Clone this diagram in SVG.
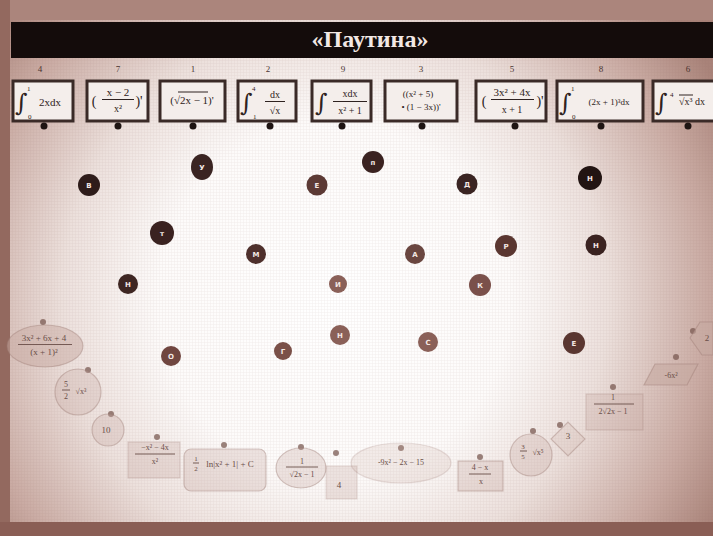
<svg xmlns="http://www.w3.org/2000/svg" width="713" height="536" viewBox="0 0 713 536">
<defs>
<radialGradient id="bg" cx="335" cy="300" r="440" gradientUnits="userSpaceOnUse">
<stop offset="0" stop-color="#ffffff"/>
<stop offset="0.4" stop-color="#fdfbfa"/>
<stop offset="0.62" stop-color="#ece0dc"/>
<stop offset="0.85" stop-color="#c9aaa2"/>
<stop offset="1" stop-color="#a98379"/>
</radialGradient>
<pattern id="grid" width="3" height="3" patternUnits="userSpaceOnUse">
<path d="M0 0.5H3M0.5 0V3" stroke="#8a6058" stroke-width="0.4" opacity="0.12"/>
</pattern>
</defs>
<style>
.box{fill:#f4eeeb;stroke:#3a2a27;stroke-width:3}
.num{font-family:"Liberation Serif",serif;font-size:9px;fill:#4a3430;text-anchor:middle}
.f{font-family:"Liberation Serif",serif;fill:#2e2220;text-anchor:middle}
.lim{font-family:"Liberation Serif",serif;fill:#2e2220;font-size:7px}
.int{font-family:"DejaVu Serif",serif;fill:#2e2220;font-size:24px}
.bar{stroke:#2e2220;stroke-width:1}
.pin{fill:#1e1412}
.let{font-family:"DejaVu Sans",sans-serif;font-weight:bold;font-size:7px;fill:#f4e8e4;text-anchor:middle}
.ans{fill:#c7aaa2;fill-opacity:0.3;stroke:#9c7a72;stroke-opacity:0.4;stroke-width:1.2}
.at{font-family:"Liberation Serif",serif;fill:#6a4e48;text-anchor:middle}
.abar{stroke:#6a4e48;stroke-width:0.9}
.adot{fill:#7a5a52;fill-opacity:0.75}
</style>
<rect width="713" height="536" fill="url(#bg)"/>
<rect width="713" height="536" fill="url(#grid)"/>
<rect x="0" y="0" width="713" height="20" fill="#ab857c"/>
<rect x="0" y="0" width="10" height="536" fill="#93695f"/>
<rect x="0" y="522" width="713" height="14" fill="#8a5e55"/>
<g id="title">
<rect x="11" y="22" width="702" height="36" fill="#140c0b"/>
<text x="370" y="47" font-family="Liberation Serif,serif" font-weight="bold" font-size="24" fill="#f2e8e4" text-anchor="middle">«Паутина»</text>
</g>
<g id="connectors"/>
<g id="task1"><text class="num" x="40" y="72">4</text><rect class="box" x="13" y="81" width="60" height="40"/><text class="int" x="15" y="111">∫</text><text class="lim" x="27" y="91">1</text><text class="lim" x="28" y="119">0</text><text class="f" x="50" y="106" font-size="11">2xdx</text><circle class="pin" cx="44" cy="126" r="3.5"/></g>
<g id="task2"><text class="num" x="118" y="72">7</text><rect class="box" x="87" y="81" width="61" height="40"/><text class="f" x="94" y="106" font-size="14">(</text><text class="f" x="118" y="96" font-size="11">x − 2</text><line class="bar" x1="102" y1="99.5" x2="134" y2="99.5"/><text class="f" x="118" y="112" font-size="10">x²</text><text class="f" x="139" y="106" font-size="14">)'</text><circle class="pin" cx="118" cy="126" r="3.5"/></g>
<g id="task3"><text class="num" x="193" y="72">1</text><rect class="box" x="160" y="81" width="65" height="40"/><text class="f" x="192" y="104" font-size="11">(√2x − 1)'</text><line class="bar" x1="178" y1="92" x2="208" y2="92"/><circle class="pin" cx="193" cy="126" r="3.5"/></g>
<g id="task4"><text class="num" x="268" y="72">2</text><rect class="box" x="238" y="81" width="58" height="40"/><text class="int" x="240" y="111">∫</text><text class="lim" x="252" y="91">4</text><text class="lim" x="253" y="119">1</text><text class="f" x="275" y="98" font-size="10">dx</text><line class="bar" x1="265" y1="101.5" x2="285" y2="101.5"/><text class="f" x="275" y="114" font-size="10">√x</text><circle class="pin" cx="270" cy="126" r="3.5"/></g>
<g id="task5"><text class="num" x="343" y="72">9</text><rect class="box" x="312" y="81" width="59" height="40"/><text class="int" x="315" y="111">∫</text><text class="f" x="350" y="97" font-size="10">xdx</text><line class="bar" x1="333" y1="101.5" x2="367" y2="101.5"/><text class="f" x="350" y="114" font-size="10">x² + 1</text><circle class="pin" cx="342" cy="126" r="3.5"/></g>
<g id="task6"><text class="num" x="421" y="72">3</text><rect class="box" x="385" y="81" width="72" height="40"/><text class="f" x="418" y="97" font-size="9">((x² + 5)</text><text class="f" x="421" y="110" font-size="9">• (1 − 3x))'</text><circle class="pin" cx="422" cy="126" r="3.5"/></g>
<g id="task7"><text class="num" x="512" y="72">5</text><rect class="box" x="476" y="81" width="70" height="40"/><text class="f" x="484" y="106" font-size="14">(</text><text class="f" x="512" y="96" font-size="11">3x² + 4x</text><line class="bar" x1="491" y1="99.5" x2="534" y2="99.5"/><text class="f" x="512" y="113" font-size="10">x + 1</text><text class="f" x="540" y="106" font-size="14">)'</text><circle class="pin" cx="515" cy="126" r="3.5"/></g>
<g id="task8"><text class="num" x="601" y="72">8</text><rect class="box" x="557" y="81" width="86" height="40"/><text class="int" x="559" y="111">∫</text><text class="lim" x="571" y="91">1</text><text class="lim" x="572" y="119">0</text><text class="f" x="609" y="105" font-size="9">(2x + 1)³dx</text><circle class="pin" cx="601" cy="126" r="3.5"/></g>
<g id="task9"><text class="num" x="688" y="72">6</text><rect class="box" x="653" y="81" width="64" height="40"/><text class="int" x="655" y="111">∫</text><text class="lim" x="670" y="97" font-size="6">4</text><text class="f" x="692" y="105" font-size="10">√x³ dx</text><line class="bar" x1="679" y1="95" x2="693" y2="95"/><circle class="pin" cx="688" cy="126" r="3.5"/></g>
<g id="letters">
<g id="l-v"><circle cx="89" cy="185" r="11" fill="#2e1c1a"/><text class="let" x="89" y="188">В</text></g>
<g id="l-u"><ellipse cx="202" cy="167" rx="11" ry="13" fill="#3a2422"/><text class="let" x="202" y="170">У</text></g>
<g id="l-e1"><circle cx="317" cy="185" r="10.5" fill="#5c3a35"/><text class="let" x="317" y="188">Е</text></g>
<g id="l-p"><circle cx="373" cy="162" r="11" fill="#3a2220"/><text class="let" x="373" y="165">п</text></g>
<g id="l-d"><circle cx="467" cy="184" r="10.5" fill="#3a2422"/><text class="let" x="467" y="187">Д</text></g>
<g id="l-n1"><circle cx="590" cy="178" r="12" fill="#221412"/><text class="let" x="590" y="181">Н</text></g>
<g id="l-t"><circle cx="162" cy="233" r="12" fill="#3a2220"/><text class="let" x="162" y="236">т</text></g>
<g id="l-m"><circle cx="256" cy="254" r="10" fill="#4e302c"/><text class="let" x="256" y="257">М</text></g>
<g id="l-a"><circle cx="415" cy="254" r="10" fill="#6a4640"/><text class="let" x="415" y="257">А</text></g>
<g id="l-r"><circle cx="506" cy="246" r="11" fill="#5a3630"/><text class="let" x="506" y="249">Р</text></g>
<g id="l-n2"><circle cx="596" cy="245" r="10.5" fill="#3a2220"/><text class="let" x="596" y="248">Н</text></g>
<g id="l-n3"><circle cx="128" cy="284" r="10" fill="#3e2622"/><text class="let" x="128" y="287">Н</text></g>
<g id="l-i"><circle cx="338" cy="284" r="9" fill="#8a6058"/><text class="let" x="338" y="287">И</text></g>
<g id="l-k"><circle cx="480" cy="285" r="11" fill="#7a504a"/><text class="let" x="480" y="288">К</text></g>
<g id="l-n4"><circle cx="340" cy="335" r="10" fill="#8a6058"/><text class="let" x="340" y="338">Н</text></g>
<g id="l-o"><circle cx="171" cy="356" r="10" fill="#704640"/><text class="let" x="171" y="359">О</text></g>
<g id="l-g"><circle cx="283" cy="351" r="9" fill="#7a5048"/><text class="let" x="283" y="354">Г</text></g>
<g id="l-s"><circle cx="428" cy="342" r="10" fill="#8a6058"/><text class="let" x="428" y="345">С</text></g>
<g id="l-e2"><circle cx="574" cy="343" r="11" fill="#5a3630"/><text class="let" x="574" y="346">Е</text></g>
</g>
<g id="answers">
<g id="a1"><circle class="adot" cx="43" cy="322" r="3"/><ellipse class="ans" cx="45" cy="346" rx="38" ry="21" style="fill-opacity:0.5"/><text class="at" x="44" y="341" font-size="9">3x² + 6x + 4</text><line class="abar" x1="18" y1="344.5" x2="72" y2="344.5"/><text class="at" x="44" y="355" font-size="9">(x + 1)²</text></g>
<g id="a2"><circle class="adot" cx="88" cy="370" r="3"/><circle class="ans" cx="78" cy="392" r="23"/><text class="at" x="66" y="387" font-size="8">5</text><line class="abar" x1="62" y1="390" x2="70" y2="390"/><text class="at" x="66" y="399" font-size="8">2</text><text class="at" x="81" y="394" font-size="8">√x³</text></g>
<g id="a3"><circle class="adot" cx="111" cy="414" r="3"/><circle class="ans" cx="108" cy="430" r="16"/><text class="at" x="106" y="433" font-size="9">10</text></g>
<g id="a4"><rect class="ans" x="128" y="442" width="52" height="36" style="stroke-opacity:0.25"/><circle class="adot" cx="157" cy="437" r="3"/><text class="at" x="155" y="450" font-size="8">−x² − 4x</text><line class="abar" x1="135" y1="454" x2="175" y2="454"/><text class="at" x="155" y="464" font-size="8">x²</text></g>
<g id="a5"><circle class="adot" cx="224" cy="445" r="3"/><rect class="ans" x="184" y="449" width="82" height="42" rx="7"/><text class="at" x="196" y="461" font-size="7">1</text><line class="abar" x1="193" y1="463" x2="199" y2="463"/><text class="at" x="196" y="471" font-size="7">2</text><text class="at" x="230" y="467" font-size="9">ln|x² + 1| + C</text></g>
<g id="a6"><circle class="adot" cx="301" cy="447" r="3"/><ellipse class="ans" cx="301" cy="468" rx="25" ry="20"/><text class="at" x="302" y="464" font-size="8">1</text><line class="abar" x1="286" y1="467" x2="318" y2="467"/><text class="at" x="302" y="477" font-size="8">√2x − 1</text></g>
<g id="a7"><circle class="adot" cx="336" cy="453" r="3"/><rect class="ans" x="326" y="466" width="31" height="33" style="stroke-opacity:0.2"/><text class="at" x="339" y="488" font-size="9">4</text></g>
<g id="a8"><circle class="adot" cx="401" cy="448" r="3"/><ellipse class="ans" cx="401" cy="463" rx="50" ry="20" style="stroke-opacity:0.2;fill-opacity:0.2"/><text class="at" x="401" y="465" font-size="8">-9x² − 2x − 15</text></g>
<g id="a9"><circle class="adot" cx="480" cy="457" r="3"/><rect class="ans" x="458" y="461" width="45" height="30"/><text class="at" x="480" y="470" font-size="8">4 − x</text><line class="abar" x1="469" y1="474" x2="491" y2="474"/><text class="at" x="481" y="484" font-size="8">x</text></g>
<g id="a10"><circle class="adot" cx="533" cy="431" r="3"/><circle class="ans" cx="531" cy="455" r="21"/><text class="at" x="523" y="449" font-size="7">3</text><line class="abar" x1="520" y1="451" x2="527" y2="451"/><text class="at" x="523" y="459" font-size="7">5</text><text class="at" x="538" y="455" font-size="8">√x⁵</text></g>
<g id="a11"><circle class="adot" cx="560" cy="425" r="3"/><rect class="ans" x="556" y="427" width="24" height="24" transform="rotate(45 568 439)" style="fill-opacity:0.2"/><text class="at" x="568" y="439" font-size="9">3</text></g>
<g id="a12"><circle class="adot" cx="613" cy="387" r="3"/><rect class="ans" x="586" y="394" width="57" height="36" style="stroke-opacity:0.25"/><text class="at" x="613" y="400" font-size="8">1</text><line class="abar" x1="594" y1="404" x2="634" y2="404"/><text class="at" x="613" y="414" font-size="8">2√2x − 1</text></g>
<g id="a13"><circle class="adot" cx="676" cy="357" r="3"/><polygon class="ans" points="655,364 698,364 687,385 644,385" style="fill-opacity:0.6"/><text class="at" x="671" y="378" font-size="8">-6x²</text></g>
<g id="a14"><circle class="adot" cx="693" cy="331" r="3"/><polygon class="ans" points="700,322 713,322 713,355 702,355 690,338" style="fill-opacity:0.6"/><text class="at" x="707" y="341" font-size="9">2</text></g>
</g>
</svg>
